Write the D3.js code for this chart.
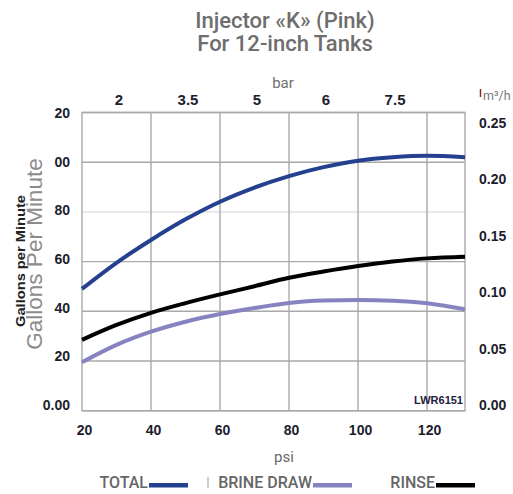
<!DOCTYPE html>
<html>
<head>
<meta charset="utf-8">
<script src="https://cdn.jsdelivr.net/npm/d3@7"></script>
<style>
  html, body { margin: 0; padding: 0; background: #fff; }
</style>
</head>
<body>
<div id="chart"></div>
<script>
// values
const psi = [20, 30, 40, 50, 60, 70, 80, 90, 100, 110, 120, 131];
const totalGpm = [49, 59.5, 68.7, 77, 84.1, 89.8, 94.4, 98, 100.6, 102, 102.6, 102];
const brineGpm = [19.5, 26.5, 31.8, 35.8, 38.9, 41.3, 43.3, 44.3, 44.5, 44.2, 43.2, 40.8];
const rinseGpm = [28.5, 34.5, 39.4, 43.3, 46.8, 50.1, 53.5, 56, 58.2, 60, 61.3, 62];

const psiTicks = [20, 40, 60, 80, 100, 120];
const gpmTicks = [0, 20, 40, 60, 80, 100, 120];
const gpmTickLabels = ['0.00', '20', '40', '60', '80', '00', '20'];
const barTickPsi = [30, 50, 70, 90, 110];
const barTickLabels = ['2', '3.5', '5', '6', '7.5'];
const m3hTicks = [0, 0.05, 0.10, 0.15, 0.20, 0.25];

const seriesNames = ['TOTAL', 'BRINE DRAW', 'RINSE'];
const seriesColors = ['#24408e', '#8783c1', '#000000'];
const seriesValues = [totalGpm, brineGpm, rinseGpm];

const width = 513, height = 494;
const plot = { left: 82, right: 465, top: 112.5, bottom: 410.7 };

const svg = d3.select('#chart').append('svg')
  .attr('width', width)
  .attr('height', height);

const x = d3.scaleLinear().domain([20, 131]).range([plot.left, plot.right]);
const y = d3.scaleLinear().domain([0, 120]).range([plot.bottom, plot.top]);
// the printed labels drift a little from the grid, they sit on their own scale
const yLabel = d3.scaleLinear().domain([0, 120]).range([405, 113]);
const yRight = d3.scaleLinear().domain([0, 0.25]).range([405, 123]);

// grid
svg.append('g')
  .selectAll('line')
  .data(gpmTicks)
  .join('line')
  .attr('x1', plot.left).attr('x2', plot.right)
  .attr('y1', d => y(d)).attr('y2', d => y(d))
  .attr('stroke', d => d === 80 ? '#dcdcdc' : '#a9a9a9')
  .attr('stroke-width', 1.4);

svg.append('g')
  .selectAll('line')
  .data(psiTicks.slice(1))
  .join('line')
  .attr('x1', d => x(d)).attr('x2', d => x(d))
  .attr('y1', plot.top).attr('y2', plot.bottom)
  .attr('stroke', '#a9a9a9')
  .attr('stroke-width', 1.4);

svg.append('rect')
  .attr('x', plot.left).attr('y', plot.top)
  .attr('width', plot.right - plot.left)
  .attr('height', plot.bottom - plot.top)
  .attr('fill', 'none')
  .attr('stroke', '#a9a9a9')
  .attr('stroke-width', 1.4);

// curves
const line = d3.line()
  .x((d, i) => x(psi[i]))
  .y(d => y(d))
  .curve(d3.curveMonotoneX);

svg.append('g')
  .selectAll('path')
  .data(seriesValues)
  .join('path')
  .attr('d', line)
  .attr('fill', 'none')
  .attr('stroke', (d, i) => seriesColors[i])
  .attr('stroke-width', 4)
  .attr('stroke-linecap', 'butt');

// axes
const tickFont = g => g
  .call(g => g.select('.domain').remove())
  .call(g => g.selectAll('.tick line').remove())
  .selectAll('text')
  .attr('font-family', '"Liberation Sans", Arial, sans-serif')
  .attr('font-weight', 'bold')
  .attr('fill', '#1d1d2e');

svg.append('g')
  .attr('transform', `translate(2,${plot.bottom})`)
  .call(d3.axisBottom(x).tickValues(psiTicks).tickSize(0).tickPadding(14))
  .call(tickFont)
  .attr('font-size', 14);

svg.append('g')
  .attr('transform', `translate(2,${plot.top})`)
  .call(d3.axisTop(x).tickValues(barTickPsi).tickSize(0).tickPadding(7.5)
    .tickFormat((d, i) => barTickLabels[i]))
  .call(tickFont)
  .attr('font-size', 15);

svg.append('g')
  .attr('transform', `translate(${plot.left},0)`)
  .call(d3.axisLeft(yLabel).tickValues(gpmTicks).tickSize(0).tickPadding(12)
    .tickFormat((d, i) => gpmTickLabels[i]))
  .call(tickFont)
  .attr('font-size', 14);

svg.append('g')
  .attr('transform', `translate(${plot.right},0)`)
  .call(d3.axisRight(yRight).tickValues(m3hTicks).tickSize(0).tickPadding(14)
    .tickFormat(d3.format('.2f')))
  .call(tickFont)
  .attr('font-size', 14);

// small code in the corner
svg.append('text')
  .attr('x', 463).attr('y', 404)
  .attr('text-anchor', 'end')
  .attr('font-family', '"Liberation Sans", Arial, sans-serif')
  .attr('font-weight', 'bold')
  .attr('font-size', 11)
  .attr('fill', '#222240')
  .text('LWR6151');

// titles
const title = svg.append('g')
  .attr('font-family', 'Roboto, sans-serif')
  .attr('font-weight', 500)
  .attr('font-size', 22)
  .attr('fill', '#6e6e6e')
  .attr('text-anchor', 'middle');
title.append('text').attr('x', 285).attr('y', 28).text('Injector «K» (Pink)');
title.append('text').attr('x', 285).attr('y', 51).text('For 12-inch Tanks');

svg.append('text')
  .attr('x', 283).attr('y', 88)
  .attr('text-anchor', 'middle')
  .attr('font-family', 'Roboto, sans-serif')
  .attr('font-size', 15)
  .attr('fill', '#707070')
  .text('bar');

svg.append('text')
  .attr('x', 284).attr('y', 462)
  .attr('text-anchor', 'middle')
  .attr('font-family', 'Roboto, sans-serif')
  .attr('font-size', 15)
  .attr('fill', '#666')
  .text('psi');

svg.append('line')
  .attr('x1', 480.5).attr('x2', 480.5)
  .attr('y1', 89).attr('y2', 97)
  .attr('stroke', '#8b2a2a')
  .attr('stroke-width', 1.5);
svg.append('text')
  .attr('x', 483).attr('y', 100)
  .attr('font-family', 'Roboto, sans-serif')
  .attr('font-size', 12.5)
  .attr('fill', '#777')
  .text('m³/h');

// y titles: a small bold one underneath, the large grey one on top
svg.append('text')
  .attr('transform', 'translate(25,261) rotate(-90)')
  .attr('text-anchor', 'middle')
  .attr('font-family', '"Liberation Sans", Arial, sans-serif')
  .attr('font-weight', 'bold')
  .attr('font-size', 13)
  .attr('fill', '#222')
  .attr('textLength', 132)
  .attr('lengthAdjust', 'spacingAndGlyphs')
  .text('Gallons per Minute');

svg.append('text')
  .attr('transform', 'translate(42,254) rotate(-90)')
  .attr('text-anchor', 'middle')
  .attr('font-family', '"Liberation Sans", Arial, sans-serif')
  .attr('font-size', 22.5)
  .attr('fill', '#8c8c8c')
  .text('Gallons Per Minute');

// legend
const legendBarX = [149, 313, 436];
const legend = svg.append('g')
  .selectAll('g')
  .data(seriesNames)
  .join('g')
  .attr('transform', (d, i) => `translate(${legendBarX[i]},488)`);
legend.append('text')
  .attr('x', -1)
  .attr('text-anchor', 'end')
  .attr('font-family', 'Roboto, sans-serif')
  .attr('font-weight', 500)
  .attr('font-size', 16)
  .attr('fill', '#666')
  .text(d => d);
legend.append('rect')
  .attr('x', 0).attr('y', -5)
  .attr('width', 39).attr('height', 4.5)
  .attr('fill', (d, i) => seriesColors[i]);

svg.append('line')
  .attr('x1', 208).attr('x2', 208)
  .attr('y1', 477).attr('y2', 488)
  .attr('stroke', '#aaa')
  .attr('stroke-width', 1.2);
</script>
</body>
</html>
